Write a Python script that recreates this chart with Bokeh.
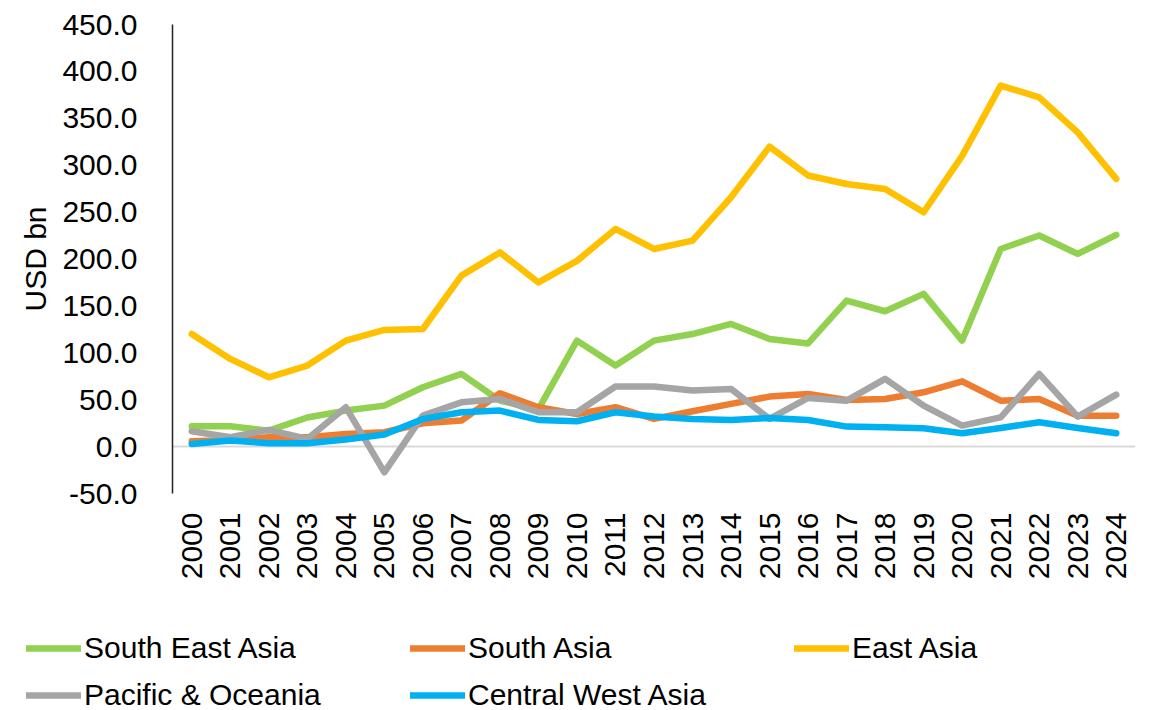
from bokeh.plotting import figure
from bokeh.models import Legend, LegendItem, FixedTicker, NumeralTickFormatter, Range1d
from bokeh.layouts import column
from bokeh.embed import file_html
from bokeh.resources import INLINE
from math import pi

years = [str(y) for y in range(2000, 2025)]

south_east_asia = [21.7, 21.7, 17.0, 31.0, 38.4, 43.7, 63.3, 77.5, 49.0, 40.0, 113.0, 86.4, 113.0,
                   120.0, 130.8, 114.8, 110.0, 155.6, 144.3, 162.8, 113.0, 210.7, 225.0, 205.4, 225.7]
south_asia = [5.7, 7.0, 10.0, 10.0, 13.5, 15.3, 24.9, 27.7, 56.9, 42.0, 34.8, 42.0, 29.5,
              37.7, 45.5, 53.3, 56.2, 49.7, 50.8, 57.9, 69.6, 49.0, 50.8, 33.0, 33.0]
east_asia = [120.0, 93.5, 73.9, 86.4, 113.0, 124.4, 125.4, 182.3, 207.0, 175.0, 198.0, 232.0, 210.7,
             219.6, 265.8, 319.8, 289.0, 280.0, 274.7, 249.8, 310.0, 384.9, 372.4, 335.0, 285.4]
pacific_oceania = [16.3, 10.0, 17.8, 8.2, 42.0, -27.4, 33.0, 47.2, 50.8, 36.6, 36.6, 64.0, 64.0,
                   59.7, 61.5, 29.5, 51.9, 49.0, 72.2, 43.7, 22.4, 31.2, 77.5, 32.0, 55.4]
central_west_asia = [2.8, 6.4, 3.6, 3.6, 7.5, 12.8, 29.5, 36.6, 38.4, 28.4, 27.0, 36.6, 32.0,
                     29.5, 28.4, 30.6, 28.4, 21.3, 20.6, 19.5, 14.2, 19.9, 25.9, 19.9, 14.2]

series_names = ["South East Asia", "South Asia", "East Asia", "Pacific & Oceania", "Central West Asia"]
series_values = [south_east_asia, south_asia, east_asia, pacific_oceania, central_west_asia]
series_colors = ["#92D050", "#ED7D31", "#FFC000", "#A5A5A5", "#00B0F0"]

y_ticks = list(range(-50, 451, 50))

FONT = "Liberation Sans"
FS = "30px"
TXT = "#000000"
LW = 6.5

p = figure(x_range=years, y_range=Range1d(-50, 450), width=1150, height=615,
           output_backend="svg", toolbar_location=None,
           min_border_left=172, min_border_right=15, min_border_top=24, min_border_bottom=122)
p.frame_align = False
p.outline_line_color = None
p.background_fill_color = "white"

p.xgrid.visible = False
p.ygrid.ticker = FixedTicker(ticks=[0])
p.ygrid.grid_line_color = "#d9d9d9"
p.ygrid.grid_line_width = 2

p.yaxis.ticker = FixedTicker(ticks=y_ticks)
p.yaxis.formatter = NumeralTickFormatter(format="0.0")
p.yaxis.axis_line_color = "#222222"
p.yaxis.axis_line_width = 1.5
p.yaxis.major_tick_line_color = None
p.yaxis.minor_tick_line_color = None
p.yaxis.major_label_standoff = 29
p.yaxis.major_label_text_font = FONT
p.yaxis.major_label_text_font_size = FS
p.yaxis.major_label_text_color = TXT
p.yaxis.axis_label = "USD bn"
p.yaxis.axis_label_text_font = FONT
p.yaxis.axis_label_text_font_size = FS
p.yaxis.axis_label_text_font_style = "normal"
p.yaxis.axis_label_text_color = TXT
p.yaxis.axis_label_standoff = 7

p.xaxis.axis_line_color = None
p.xaxis.major_tick_line_color = None
p.xaxis.minor_tick_line_color = None
p.xaxis.major_label_orientation = pi / 2
p.xaxis.major_label_standoff = 13
p.xaxis.major_label_text_font = FONT
p.xaxis.major_label_text_font_size = FS
p.xaxis.major_label_text_color = TXT

for name, vals, col in zip(series_names, series_values, series_colors):
    p.line(years, vals, line_color=col, line_width=LW, line_cap="round", line_join="round")

# strip under the chart that carries the legend (proxy lines sit outside its view)
lg = figure(width=1150, height=95, output_backend="svg", toolbar_location=None,
            x_range=Range1d(0, 1), y_range=Range1d(0, 1),
            x_axis_location=None, y_axis_location=None,
            min_border_left=0, min_border_right=0, min_border_top=0, min_border_bottom=0)
lg.frame_align = False
lg.outline_line_color = None
lg.grid.visible = False
items = []
for name, col in zip(series_names, series_colors):
    r = lg.line(x=[-10, -9], y=[-10, -9], line_color=col, line_width=LW,
                line_cap="round", line_join="round")
    items.append(LegendItem(label=name, renderers=[r]))

legend = Legend(items=items, orientation="horizontal", ncols=3, location=(26, -2),
                glyph_width=55, glyph_height=30, label_height=30, label_width=313,
                label_standoff=3, spacing=13, padding=0, margin=0,
                border_line_color=None, background_fill_alpha=0,
                label_text_font=FONT, label_text_font_size=FS, label_text_color=TXT)
lg.add_layout(legend)

open("out.html", "w").write(file_html(column(p, lg, spacing=0), INLINE))
